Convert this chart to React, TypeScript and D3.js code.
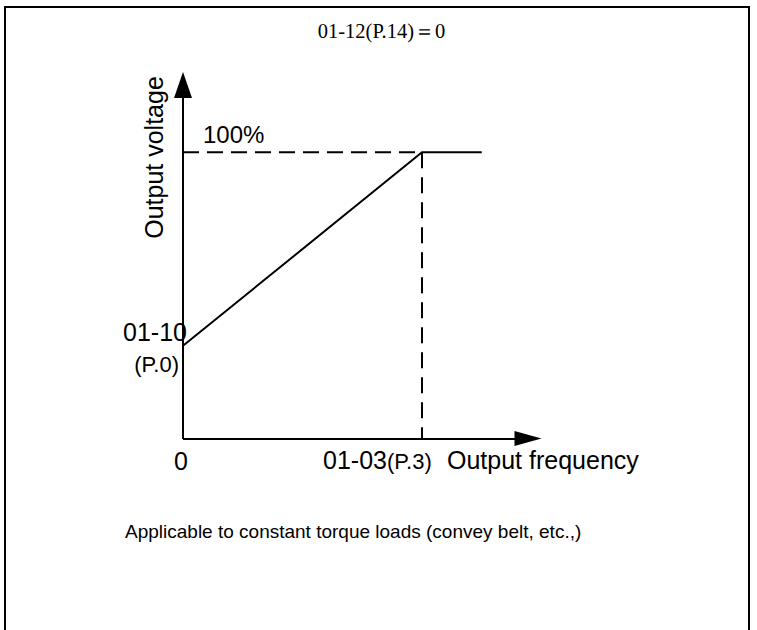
import * as d3 from "d3";

// V/f curve: output frequency (% of max axis) vs output voltage (%)
const freqPoints = [0, 60, 75];
const voltPoints = [32.5, 100, 100];
const baseFreq = 60; // 01-03(P.3)
const fullVolt = 100; // 100%

const titleText = "01-12(P.14)＝0";
const yAxisLabel = "Output voltage";
const xAxisLabel = "Output frequency";
const startLabel = ["01-10", "(P.0)"];
const baseLabel = ["01-03", "(P.3)"];
const captionText = "Applicable to constant torque loads (convey belt, etc.,)";

const W = 757;
const H = 630;
const sans = "'Liberation Sans', Arial, sans-serif";

export default function App() {
  const x = d3.scaleLinear().domain([0, 90]).range([183, 541.5]);
  const y = d3.scaleLinear().domain([0, 128]).range([439, 72]);

  const pts: [number, number][] = freqPoints.map((f, i) => [f, voltPoints[i]]);
  const line = d3
    .line<[number, number]>()
    .x(d => x(d[0]))
    .y(d => y(d[1]));

  const x0 = x(0);
  const y0 = y(0);
  const xMax = x.range()[1];
  const yMax = y.range()[1];

  return (
    <svg
      width={W}
      height={H}
      style={{ position: "absolute", left: 0, top: 0, background: "#fff" }}
    >
      {/* frame (open at the bottom) */}
      <path d={`M5,${H} V7 H749 V${H}`} fill="none" stroke="#000" strokeWidth={2} />

      <text
        x={381.5}
        y={38}
        textAnchor="middle"
        fontFamily="'Liberation Serif', 'Times New Roman', serif"
        fontSize={20.5}
      >
        {titleText}
      </text>

      {/* axes */}
      <line x1={x0} y1={y0} x2={x0} y2={yMax + 24} stroke="#000" strokeWidth={2} />
      <path d={`M${x0},${yMax} L${x0 + 9},${yMax + 26} L${x0 - 9},${yMax + 26} Z`} fill="#000" />
      <line x1={x0} y1={y0} x2={xMax - 25} y2={y0} stroke="#000" strokeWidth={2} />
      <path d={`M${xMax},${y0 - 0.5} L${xMax - 27},${y0 - 8} L${xMax - 27},${y0 + 7} Z`} fill="#000" />

      {/* reference dashes */}
      <line
        x1={x0}
        y1={y(fullVolt)}
        x2={x(baseFreq)}
        y2={y(fullVolt)}
        stroke="#000"
        strokeWidth={2}
        strokeDasharray="16 8"
      />
      <line
        x1={x(baseFreq)}
        y1={y(fullVolt)}
        x2={x(baseFreq)}
        y2={y0}
        stroke="#000"
        strokeWidth={2}
        strokeDasharray="16 9"
      />

      {/* V/f curve */}
      <path d={line(pts) ?? ""} fill="none" stroke="#000" strokeWidth={2} />

      <g fontFamily={sans} fill="#000">
        <text transform={`translate(163,157.5) rotate(-90)`} textAnchor="middle" fontSize={25}>
          {yAxisLabel}
        </text>
        <text x={203} y={143} fontSize={24}>100%</text>
        <text x={187} y={341} textAnchor="end" fontSize={25}>{startLabel[0]}</text>
        <text x={179} y={372} textAnchor="end" fontSize={22}>{startLabel[1]}</text>
        <text x={x0 - 2} y={470} textAnchor="middle" fontSize={25}>0</text>
        <text x={323} y={469} fontSize={25}>
          {baseLabel[0]}
          <tspan fontSize={22}>{baseLabel[1]}</tspan>
        </text>
        <text x={447} y={469} fontSize={25}>{xAxisLabel}</text>
        <text x={125} y={538} fontSize={19}>{captionText}</text>
      </g>
    </svg>
  );
}
